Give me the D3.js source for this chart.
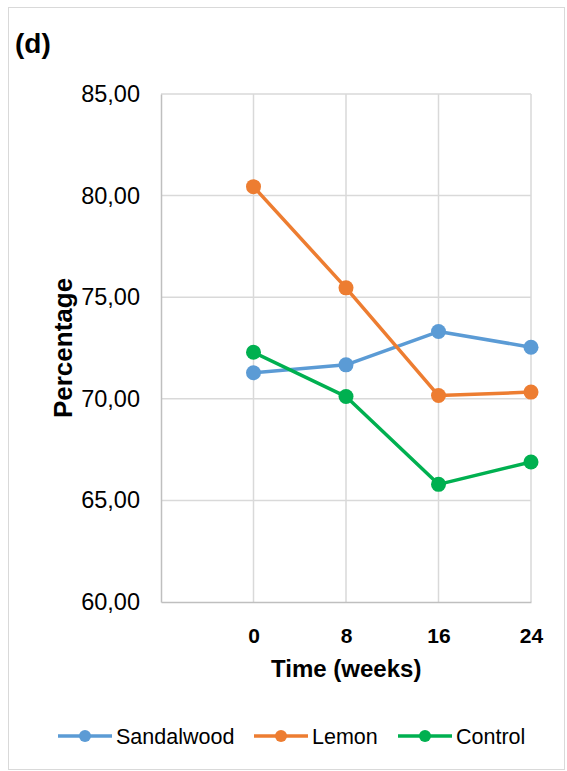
<!DOCTYPE html>
<html>
<head>
<meta charset="utf-8">
<script src="https://cdn.jsdelivr.net/npm/d3@7"></script>
<style>
  body { margin: 0; background: #fff; }
  text { font-family: Arial, "Liberation Sans", sans-serif; }
</style>
</head>
<body>
<div id="chart"></div>
<script>
// categories on the x axis (first slot is empty, as in the original)
var weeks = ['', '0', '8', '16', '24'];
var seriesNames = ['Sandalwood', 'Lemon', 'Control'];
var sandalwood = [71.28, 71.67, 73.31, 72.54];
var lemon = [80.44, 75.46, 70.16, 70.33];
var control = [72.29, 70.11, 65.79, 66.89];
var yTicks = [60, 65, 70, 75, 80, 85];
var colors = ['#5B9BD5', '#ED7D31', '#00B050'];

var width = 567, height = 771;
var margin = { top: 94, right: 36, bottom: 169, left: 161 };

var svg = d3.select('#chart').append('svg')
            .attr('width', width).attr('height', height);

// chart frame
svg.append('rect')
   .attr('x', 8.5).attr('y', 7.5)
   .attr('width', 556).attr('height', 762)
   .attr('fill', 'none').attr('stroke', '#D9D9D9').attr('stroke-width', 1);

var x = d3.scalePoint().domain(weeks)
          .range([margin.left, width - margin.right]).padding(0);
var y = d3.scaleLinear().domain([60, 85])
          .range([height - margin.bottom, margin.top]);

// gridlines
svg.append('g').selectAll('line').data(yTicks.slice(1)).enter()
   .append('line')
   .attr('x1', margin.left).attr('x2', width - margin.right)
   .attr('y1', function(d) { return y(d); }).attr('y2', function(d) { return y(d); })
   .attr('stroke', '#D9D9D9').attr('stroke-width', 1.5);

svg.append('g').selectAll('line').data(weeks.slice(1)).enter()
   .append('line')
   .attr('x1', function(d) { return x(d); }).attr('x2', function(d) { return x(d); })
   .attr('y1', y(60)).attr('y2', y(85))
   .attr('stroke', '#D9D9D9').attr('stroke-width', 1.5);

// axes
var yAxis = svg.append('g')
   .attr('transform', 'translate(' + margin.left + ',0)')
   .call(d3.axisLeft(y).tickValues(yTicks).tickSize(0).tickPadding(21)
           .tickFormat(function(d) { return d3.format('.2f')(d).replace('.', ','); }));
yAxis.select('.domain').attr('stroke', '#BFBFBF').attr('stroke-width', 1.5);
yAxis.selectAll('text').attr('font-size', 23.5).attr('fill', '#000')
     .style('font-family', 'Arial, "Liberation Sans", sans-serif');

var xAxis = svg.append('g')
   .attr('transform', 'translate(0,' + y(60) + ')')
   .call(d3.axisBottom(x).tickSize(0).tickPadding(26));
xAxis.select('.domain').attr('stroke', '#BFBFBF').attr('stroke-width', 1.5);
xAxis.selectAll('text').attr('font-size', 21).attr('font-weight', 'bold').attr('fill', '#000')
     .style('font-family', 'Arial, "Liberation Sans", sans-serif');

// axis titles
svg.append('text')
   .attr('x', (x('0') + x('24')) / 2 - 46).attr('y', 677)
   .attr('text-anchor', 'middle').attr('font-size', 24).attr('font-weight', 'bold')
   .text('Time (weeks)');

svg.append('text')
   .attr('transform', 'translate(72,' + y(72.5) + ') rotate(-90)')
   .attr('text-anchor', 'middle').attr('font-size', 26).attr('font-weight', 'bold')
   .text('Percentage');

svg.append('text')
   .attr('x', 15).attr('y', 53)
   .attr('font-size', 28).attr('font-weight', 'bold')
   .text('(d)');

// series
var allSeries = [sandalwood, lemon, control];
var line = d3.line()
   .x(function(d, i) { return x(weeks[i + 1]); })
   .y(function(d) { return y(d); });

allSeries.forEach(function(values, s) {
    var g = svg.append('g');
    g.append('path').datum(values)
     .attr('d', line).attr('fill', 'none')
     .attr('stroke', colors[s]).attr('stroke-width', 3.5)
     .attr('stroke-linejoin', 'round');
    g.selectAll('circle').data(values).enter()
     .append('circle')
     .attr('cx', function(d, i) { return x(weeks[i + 1]); })
     .attr('cy', function(d) { return y(d); })
     .attr('r', 7.5).attr('fill', colors[s]);
});

// legend
var legendX = [58, 254, 398];
var legend = svg.append('g').selectAll('g').data(seriesNames).enter()
   .append('g')
   .attr('transform', function(d, i) { return 'translate(' + legendX[i] + ',736)'; });
legend.append('line')
   .attr('x1', 0).attr('x2', 54).attr('y1', 0).attr('y2', 0)
   .attr('stroke', function(d, i) { return colors[i]; }).attr('stroke-width', 3.5);
legend.append('circle')
   .attr('cx', 27).attr('cy', 0).attr('r', 6)
   .attr('fill', function(d, i) { return colors[i]; });
legend.append('text')
   .attr('x', 58).attr('y', 0).attr('dy', '0.35em')
   .attr('font-size', 21.5).attr('fill', '#000')
   .text(function(d) { return d; });
</script>
</body>
</html>
